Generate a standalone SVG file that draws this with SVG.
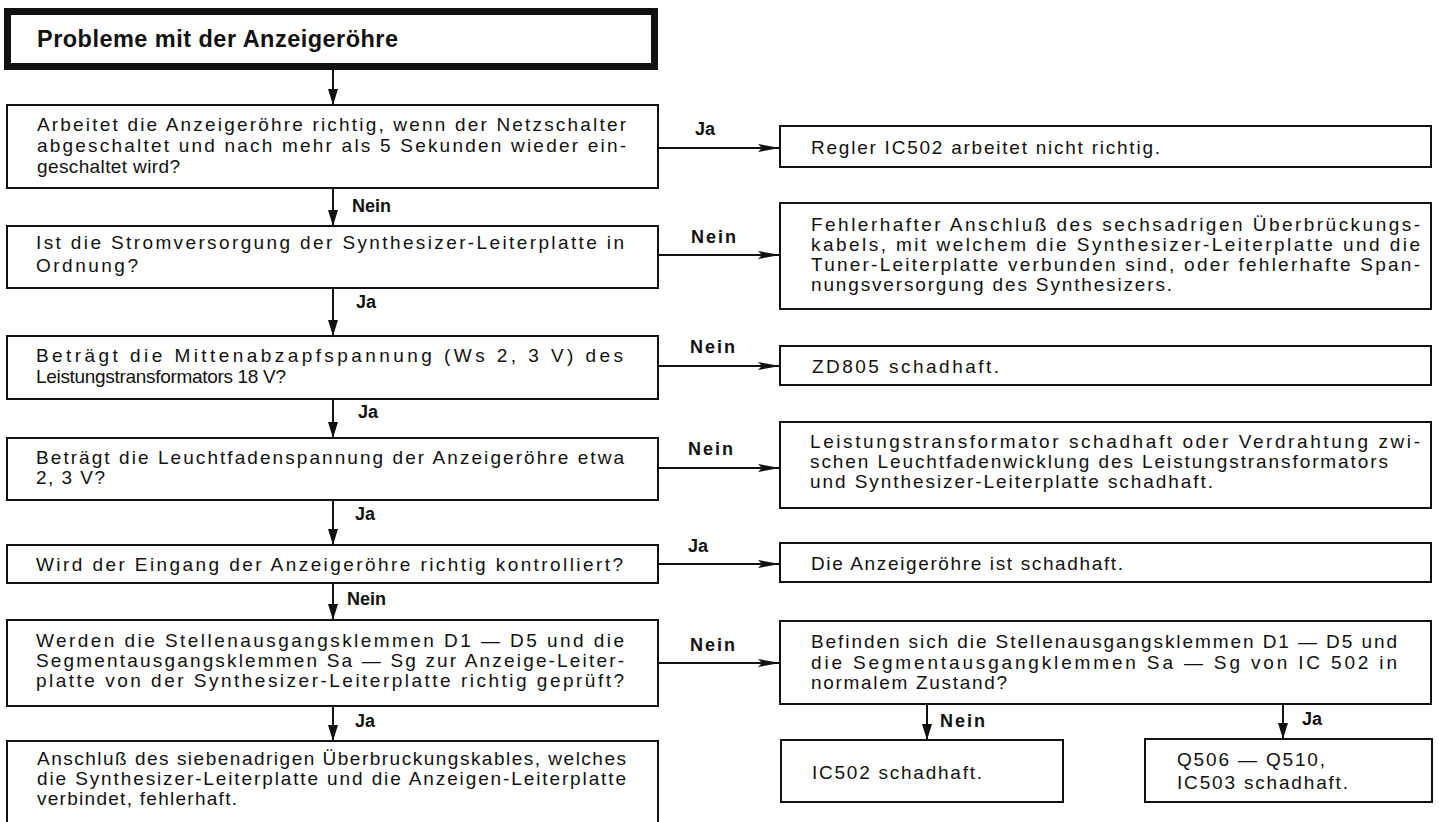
<svg xmlns="http://www.w3.org/2000/svg" width="1439" height="822" viewBox="0 0 1439 822">
<defs>
<style>
.bx{fill:#fff;stroke:#111;stroke-width:2}
.tt{font-family:"Liberation Sans",Arial,Helvetica,sans-serif;font-size:19px;fill:#111}
.ti{font-family:"Liberation Sans",Arial,Helvetica,sans-serif;font-size:23.5px;font-weight:bold;fill:#111}
.lb{font-family:"Liberation Sans",Arial,Helvetica,sans-serif;font-size:18px;font-weight:bold;fill:#111}
.cn{stroke:#111;stroke-width:2;fill:none}
</style>
<marker id="ah" markerUnits="userSpaceOnUse" viewBox="0 0 22 8" markerWidth="22" markerHeight="8" refX="22" refY="4" orient="auto">
<path d="M0,0 L22,4 L0,8 L4,4 z" fill="#111"/>
</marker>
<marker id="av" markerUnits="userSpaceOnUse" viewBox="0 0 16 10" markerWidth="16" markerHeight="10" refX="16" refY="5" orient="auto">
<path d="M0,0 L16,5 L0,10 z" fill="#111"/>
</marker>
</defs>
<rect width="1439" height="822" fill="#fff"/>

<g id="connectors">
<line class="cn" x1="333" y1="70" x2="333" y2="105" marker-end="url(#av)"/>
<line class="cn" x1="333" y1="188" x2="333" y2="226" marker-end="url(#av)"/>
<line class="cn" x1="333" y1="288" x2="333" y2="336" marker-end="url(#av)"/>
<line class="cn" x1="333" y1="399" x2="333" y2="438" marker-end="url(#av)"/>
<line class="cn" x1="333" y1="500" x2="333" y2="545" marker-end="url(#av)"/>
<line class="cn" x1="333" y1="583" x2="333" y2="620" marker-end="url(#av)"/>
<line class="cn" x1="333" y1="706" x2="333" y2="741" marker-end="url(#av)"/>
<line class="cn" x1="658" y1="148" x2="780" y2="148" marker-end="url(#ah)"/>
<line class="cn" x1="658" y1="255" x2="780" y2="255" marker-end="url(#ah)"/>
<line class="cn" x1="658" y1="366" x2="780" y2="366" marker-end="url(#ah)"/>
<line class="cn" x1="658" y1="468" x2="780" y2="468" marker-end="url(#ah)"/>
<line class="cn" x1="658" y1="564" x2="780" y2="564" marker-end="url(#ah)"/>
<line class="cn" x1="658" y1="663" x2="780" y2="663" marker-end="url(#ah)"/>
<line class="cn" x1="927" y1="704" x2="927" y2="740" marker-end="url(#av)"/>
<line class="cn" x1="1283" y1="704" x2="1283" y2="739" marker-end="url(#av)"/>
<text class="lb" x="352" y="212">Nein</text>
<text class="lb" x="356" y="308">Ja</text>
<text class="lb" x="358" y="418">Ja</text>
<text class="lb" x="355" y="520">Ja</text>
<text class="lb" x="347" y="605">Nein</text>
<text class="lb" x="355" y="727">Ja</text>
<text class="lb" x="695" y="135">Ja</text>
<text class="lb" x="691" y="243" textLength="45">Nein</text>
<text class="lb" x="690" y="353" textLength="45">Nein</text>
<text class="lb" x="688" y="455" textLength="45">Nein</text>
<text class="lb" x="688" y="552">Ja</text>
<text class="lb" x="690" y="651" textLength="45">Nein</text>
<text class="lb" x="940" y="727" textLength="45">Nein</text>
<text class="lb" x="1302" y="725">Ja</text>
</g>

<g id="title">
<rect x="7.5" y="11.5" width="647" height="55" fill="#fff" stroke="#111" stroke-width="7"/>
<text class="ti" x="37" y="47" textLength="361">Probleme mit der Anzeigeröhre</text>
</g>

<g id="q1">
<rect class="bx" x="7" y="105" width="651" height="83"/>
<text class="tt" x="37" y="131" textLength="589">Arbeitet die Anzeigeröhre richtig, wenn der Netzschalter</text>
<text class="tt" x="37" y="152" textLength="589">abgeschaltet und nach mehr als 5 Sekunden wieder ein-</text>
<text class="tt" x="37" y="173" textLength="143">geschaltet wird?</text>
</g>

<g id="q2">
<rect class="bx" x="7" y="226" width="651" height="62"/>
<text class="tt" x="36" y="249" textLength="588">Ist die Stromversorgung der Synthesizer-Leiterplatte in</text>
<text class="tt" x="36" y="272" textLength="102">Ordnung?</text>
</g>

<g id="q3">
<rect class="bx" x="7" y="336" width="651" height="63"/>
<text class="tt" x="36" y="362" textLength="587">Beträgt die Mittenabzapfspannung (Ws 2, 3 V) des</text>
<text class="tt" x="36" y="383" textLength="250">Leistungstransformators 18 V?</text>
</g>

<g id="q4">
<rect class="bx" x="7" y="438" width="651" height="62"/>
<text class="tt" x="36" y="464" textLength="588">Beträgt die Leuchtfadenspannung der Anzeigeröhre etwa</text>
<text class="tt" x="36" y="484" textLength="69">2, 3 V?</text>
</g>

<g id="q5">
<rect class="bx" x="7" y="545" width="651" height="38"/>
<text class="tt" x="36" y="571" textLength="587">Wird der Eingang der Anzeigeröhre richtig kontrolliert?</text>
</g>

<g id="q6">
<rect class="bx" x="7" y="620" width="651" height="86"/>
<text class="tt" x="36" y="647" textLength="588">Werden die Stellenausgangsklemmen D1 — D5 und die</text>
<text class="tt" x="36" y="667" textLength="588">Segmentausgangsklemmen Sa — Sg zur Anzeige-Leiter-</text>
<text class="tt" x="36" y="687" textLength="588">platte von der Synthesizer-Leiterplatte richtig geprüft?</text>
</g>

<g id="r7left">
<rect class="bx" x="7" y="741" width="651" height="90"/>
<text class="tt" x="37" y="765" textLength="589">Anschluß des siebenadrigen Überbruckungskables, welches</text>
<text class="tt" x="37" y="785" textLength="589">die Synthesizer-Leiterplatte und die Anzeigen-Leiterplatte</text>
<text class="tt" x="37" y="805" textLength="200">verbindet, fehlerhaft.</text>
</g>

<g id="a1">
<rect class="bx" x="780" y="126" width="651" height="41"/>
<text class="tt" x="811" y="154" textLength="349">Regler IC502 arbeitet nicht richtig.</text>
</g>

<g id="a2">
<rect class="bx" x="780" y="203" width="651" height="106"/>
<text class="tt" x="811" y="231" textLength="609">Fehlerhafter Anschluß des sechsadrigen Überbrückungs-</text>
<text class="tt" x="811" y="251" textLength="609">kabels, mit welchem die Synthesizer-Leiterplatte und die</text>
<text class="tt" x="811" y="271" textLength="609">Tuner-Leiterplatte verbunden sind, oder fehlerhafte Span-</text>
<text class="tt" x="811" y="291" textLength="361">nungsversorgung des Synthesizers.</text>
</g>

<g id="a3">
<rect class="bx" x="780" y="346" width="651" height="39"/>
<text class="tt" x="812" y="373" textLength="187">ZD805 schadhaft.</text>
</g>

<g id="a4">
<rect class="bx" x="780" y="422" width="651" height="86"/>
<text class="tt" x="810" y="448" textLength="610">Leistungstransformator schadhaft oder Verdrahtung zwi-</text>
<text class="tt" x="810" y="468" textLength="578">schen Leuchtfadenwicklung des Leistungstransformators</text>
<text class="tt" x="810" y="488" textLength="403">und Synthesizer-Leiterplatte schadhaft.</text>
</g>

<g id="a5">
<rect class="bx" x="780" y="543" width="651" height="39"/>
<text class="tt" x="811" y="570" textLength="312">Die Anzeigeröhre ist schadhaft.</text>
</g>

<g id="q7">
<rect class="bx" x="780" y="621" width="651" height="83"/>
<text class="tt" x="811" y="648" textLength="586">Befinden sich die Stellenausgangsklemmen D1 — D5 und</text>
<text class="tt" x="811" y="669" textLength="586">die Segmentausgangklemmen Sa — Sg von IC 502 in</text>
<text class="tt" x="811" y="689" textLength="196">normalem Zustand?</text>
</g>

<g id="a6">
<rect class="bx" x="781" y="740" width="282" height="62"/>
<text class="tt" x="812" y="779" textLength="170">IC502 schadhaft.</text>
</g>

<g id="a7">
<rect class="bx" x="1145" y="739" width="287" height="63"/>
<text class="tt" x="1177" y="766" textLength="148">Q506 — Q510,</text>
<text class="tt" x="1177" y="789" textLength="171">IC503 schadhaft.</text>
</g>
</svg>
